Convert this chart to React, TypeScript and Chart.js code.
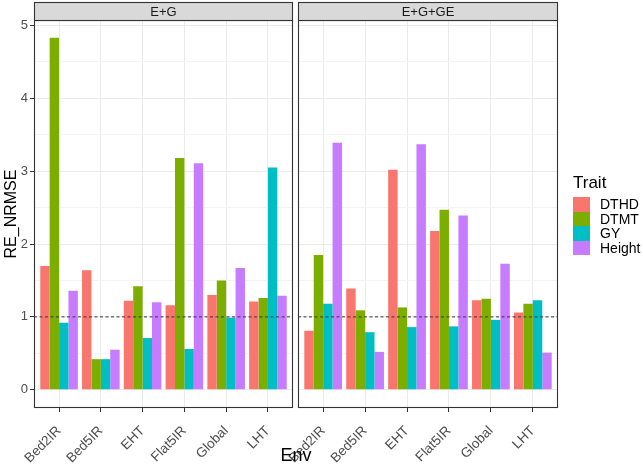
import React, { useEffect, useRef } from 'react';
import { Chart, registerables } from 'chart.js';

Chart.register(...registerables);

const FONT = '"Liberation Sans", Arial, sans-serif';

const ENVS = ['Bed2IR', 'Bed5IR', 'EHT', 'Flat5IR', 'Global', 'LHT'];
const TRAITS = ['DTHD', 'DTMT', 'GY', 'Height'];
const TRAIT_COLORS = ['#F8766D', '#7CAE00', '#00BFC4', '#C77CFF'];
const FACETS = ['E+G', 'E+G+GE'];

// E+G panel
const EG_DTHD = [1.70, 1.64, 1.22, 1.16, 1.30, 1.21];
const EG_DTMT = [4.83, 0.42, 1.42, 3.18, 1.50, 1.26];
const EG_GY = [0.92, 0.42, 0.71, 0.56, 0.99, 3.05];
const EG_HEIGHT = [1.36, 0.55, 1.20, 3.11, 1.67, 1.29];

// E+G+GE panel
const EGGE_DTHD = [0.81, 1.39, 3.02, 2.18, 1.23, 1.06];
const EGGE_DTMT = [1.85, 1.09, 1.13, 2.47, 1.25, 1.18];
const EGGE_GY = [1.18, 0.79, 0.86, 0.87, 0.96, 1.23];
const EGGE_HEIGHT = [3.39, 0.52, 3.37, 2.39, 1.73, 0.51];

const Y_MIN = -0.25;
const Y_MAX = 5.074;
const REF_LINE = 1;

const W = 643;
const H = 465;

// draws dashed reference line, panel border and facet strip
const panelDecor = {
  id: 'panelDecor',
  afterDraw(chart: any, _args: any, opts: any) {
    const { ctx, chartArea: a, scales } = chart;
    ctx.save();
    const y = scales.y.getPixelForValue(REF_LINE);
    ctx.setLineDash([3, 2.5]);
    ctx.strokeStyle = '#333333';
    ctx.lineWidth = 1;
    ctx.beginPath();
    ctx.moveTo(a.left, y);
    ctx.lineTo(a.right, y);
    ctx.stroke();
    ctx.setLineDash([]);

    ctx.strokeStyle = '#333333';
    ctx.lineWidth = 1.1;
    ctx.strokeRect(a.left + 0.5, a.top + 0.5, a.width - 1, a.height - 1);

    ctx.fillStyle = '#D9D9D9';
    ctx.fillRect(a.left + 0.5, 2.5, a.width - 1, a.top - 2.5);
    ctx.strokeRect(a.left + 0.5, 2.5, a.width - 1, a.top - 2);
    ctx.fillStyle = '#1A1A1A';
    ctx.font = `13px ${FONT}`;
    ctx.textAlign = 'center';
    ctx.textBaseline = 'middle';
    ctx.fillText(opts.label, (a.left + a.right) / 2, (a.top + 2.5) / 2 + 1);
    ctx.restore();
  },
};

function makePanel(
  canvas: HTMLCanvasElement,
  facet: string,
  series: number[][],
  padLeft: number,
  padRight: number,
  showY: boolean
) {
  return new Chart(canvas, {
    type: 'bar',
    data: {
      datasets: TRAITS.map((t, i) => ({
        label: t,
        data: ENVS.map((_, j) => ({ x: j + 1, y: series[i][j] })),
        backgroundColor: TRAIT_COLORS[i],
        borderWidth: 0,
        categoryPercentage: 0.9,
        barPercentage: 1,
      })),
    },
    options: {
      animation: false,
      responsive: false,
      maintainAspectRatio: false,
      layout: { padding: { top: 20, left: padLeft, right: padRight, bottom: 0 } },
      plugins: {
        legend: { display: false },
        tooltip: { enabled: false },
        panelDecor: { label: facet },
      } as any,
      scales: {
        x: {
          type: 'linear',
          min: 0.4,
          max: 6.6,
          offset: false,
          afterFit: (s: any) => {
            s.height = 57;
          },
          ticks: {
            stepSize: 1,
            includeBounds: false,
            autoSkip: false,
            minRotation: 45,
            maxRotation: 45,
            padding: 11,
            color: '#4D4D4D',
            font: { family: FONT, size: 13.5 },
            callback: (v: any) => ENVS[Math.round(v) - 1] ?? '',
          },
          grid: {
            offset: false,
            color: '#EBEBEB',
            lineWidth: 1,
            tickColor: '#333333',
            tickLength: 4,
          },
          border: { display: false },
        },
        y: {
          min: Y_MIN,
          max: Y_MAX,
          afterFit: (s: any) => {
            s.width = showY ? 34 : 0;
          },
          ticks: {
            display: showY,
            stepSize: 0.5,
            includeBounds: false,
            padding: 2,
            color: '#4D4D4D',
            font: { family: FONT, size: 13 },
            callback: (v: any) => (Number.isInteger(v) ? String(v) : ''),
          },
          grid: {
            color: (c: any) => (Number.isInteger(c.tick?.value) ? '#EBEBEB' : '#F4F4F4'),
            lineWidth: 1,
            drawTicks: showY,
            tickColor: (c: any) => (Number.isInteger(c.tick?.value) ? '#333333' : 'rgba(0,0,0,0)'),
            tickLength: 4,
          },
          border: { display: false },
          title: {
            display: showY,
            text: 'RE_NRMSE',
            color: '#000000',
            padding: { top: 2, bottom: 0 },
            font: { family: FONT, size: 16 },
          },
        },
      },
    } as any,
    plugins: [panelDecor],
  });
}

const App: React.FC = () => {
  const leftRef = useRef<HTMLCanvasElement>(null);
  const rightRef = useRef<HTMLCanvasElement>(null);

  useEffect(() => {
    if (!leftRef.current || !rightRef.current) return;
    const left = makePanel(
      leftRef.current,
      FACETS[0],
      [EG_DTHD, EG_DTMT, EG_GY, EG_HEIGHT],
      0,
      W - 293,
      true
    );
    const right = makePanel(
      rightRef.current,
      FACETS[1],
      [EGGE_DTHD, EGGE_DTMT, EGGE_GY, EGGE_HEIGHT],
      298,
      W - 558,
      false
    );
    return () => {
      left.destroy();
      right.destroy();
    };
  }, []);

  const canvasStyle: React.CSSProperties = {
    position: 'absolute',
    left: 0,
    top: 0,
    width: W,
    height: H,
  };

  return (
    <div
      style={{
        position: 'absolute',
        left: 0,
        top: 0,
        width: W,
        height: H,
        background: '#FFFFFF',
        fontFamily: FONT,
        overflow: 'hidden',
      }}
    >
      <canvas ref={leftRef} width={W} height={H} style={canvasStyle} />
      <canvas ref={rightRef} width={W} height={H} style={canvasStyle} />
      <div
        style={{
          position: 'absolute',
          left: 246,
          width: 100,
          top: 445,
          textAlign: 'center',
          fontSize: 18,
          lineHeight: '20px',
          color: '#000000',
        }}
      >
        Env
      </div>
      <div style={{ position: 'absolute', left: 573, top: 173 }}>
        <div style={{ fontSize: 17, lineHeight: '20px', color: '#000000' }}>Trait</div>
        <div style={{ marginTop: 4 }}>
          {TRAITS.map((t, i) => (
            <div key={t} style={{ display: 'flex', alignItems: 'center', height: 14.5 }}>
              <div style={{ width: 17, height: 14.5, background: TRAIT_COLORS[i] }} />
              <div style={{ marginLeft: 10, fontSize: 14, lineHeight: '14.5px', color: '#000000' }}>
                {t}
              </div>
            </div>
          ))}
        </div>
      </div>
    </div>
  );
};

export default App;
